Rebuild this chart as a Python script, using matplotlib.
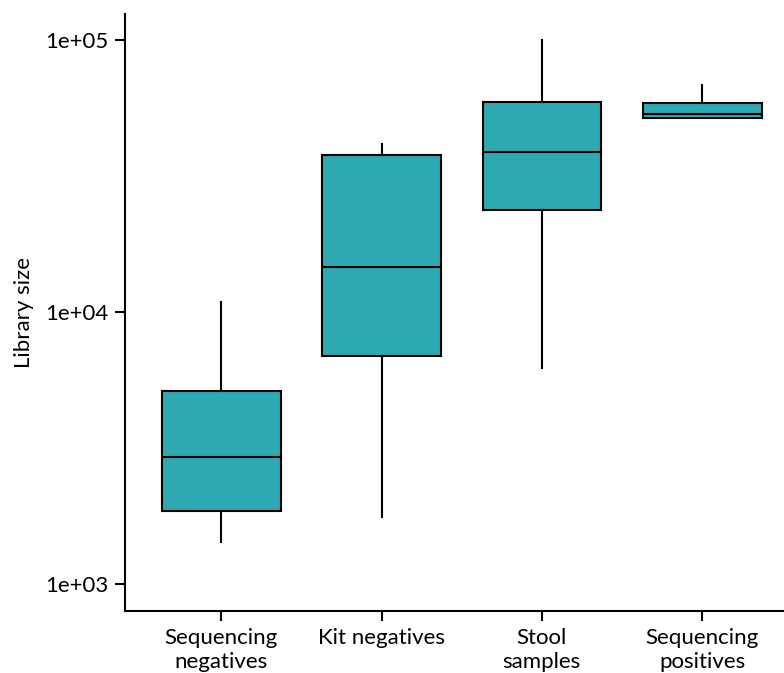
import matplotlib.pyplot as plt

plt.rcParams['font.family'] = ['Lato', 'DejaVu Sans']

groups = ['Sequencing\nnegatives', 'Kit negatives', 'Stool\nsamples', 'Sequencing\npositives']
whislo = [1430, 1760, 6220, 51600]
q1 = [1850, 6890, 23700, 51600]
med = [2930, 14600, 38700, 53400]
q3 = [5130, 37800, 59200, 58600]
whishi = [10900, 41500, 100000, 68400]

stats = []
for i in range(len(groups)):
    stats.append({'whislo': whislo[i], 'q1': q1[i], 'med': med[i],
                  'q3': q3[i], 'whishi': whishi[i], 'fliers': []})

fig = plt.figure(figsize=(7.84, 6.73), dpi=100)
ax = fig.add_axes([0.1594, 0.0921, 0.8406, 0.8871])

ax.bxp(stats, positions=[1, 2, 3, 4], widths=0.74, patch_artist=True,
       showcaps=False,
       boxprops=dict(facecolor='#2fa9b1', edgecolor='black', linewidth=1.5),
       medianprops=dict(color='black', linewidth=1.5),
       whiskerprops=dict(color='black', linewidth=1.5))

ax.set_yscale('log')
ax.set_ylim(10**2.9007, 10**5.0956)
ax.set_xlim(0.4, 4.51)
ax.set_yticks([1e3, 1e4, 1e5])
ax.set_yticklabels(['1e+03', '1e+04', '1e+05'])
ax.minorticks_off()
ax.set_xticks([1, 2, 3, 4])
ax.set_xticklabels(groups, linespacing=1.25)
ax.set_ylabel('Library size', fontsize=16, labelpad=8)

for s in ['top', 'right']:
    ax.spines[s].set_visible(False)
for s in ['left', 'bottom']:
    ax.spines[s].set_linewidth(1.5)
ax.tick_params(axis='both', labelsize=16, width=1.5, length=7, pad=5)

fig.savefig('out.png', dpi=100)
